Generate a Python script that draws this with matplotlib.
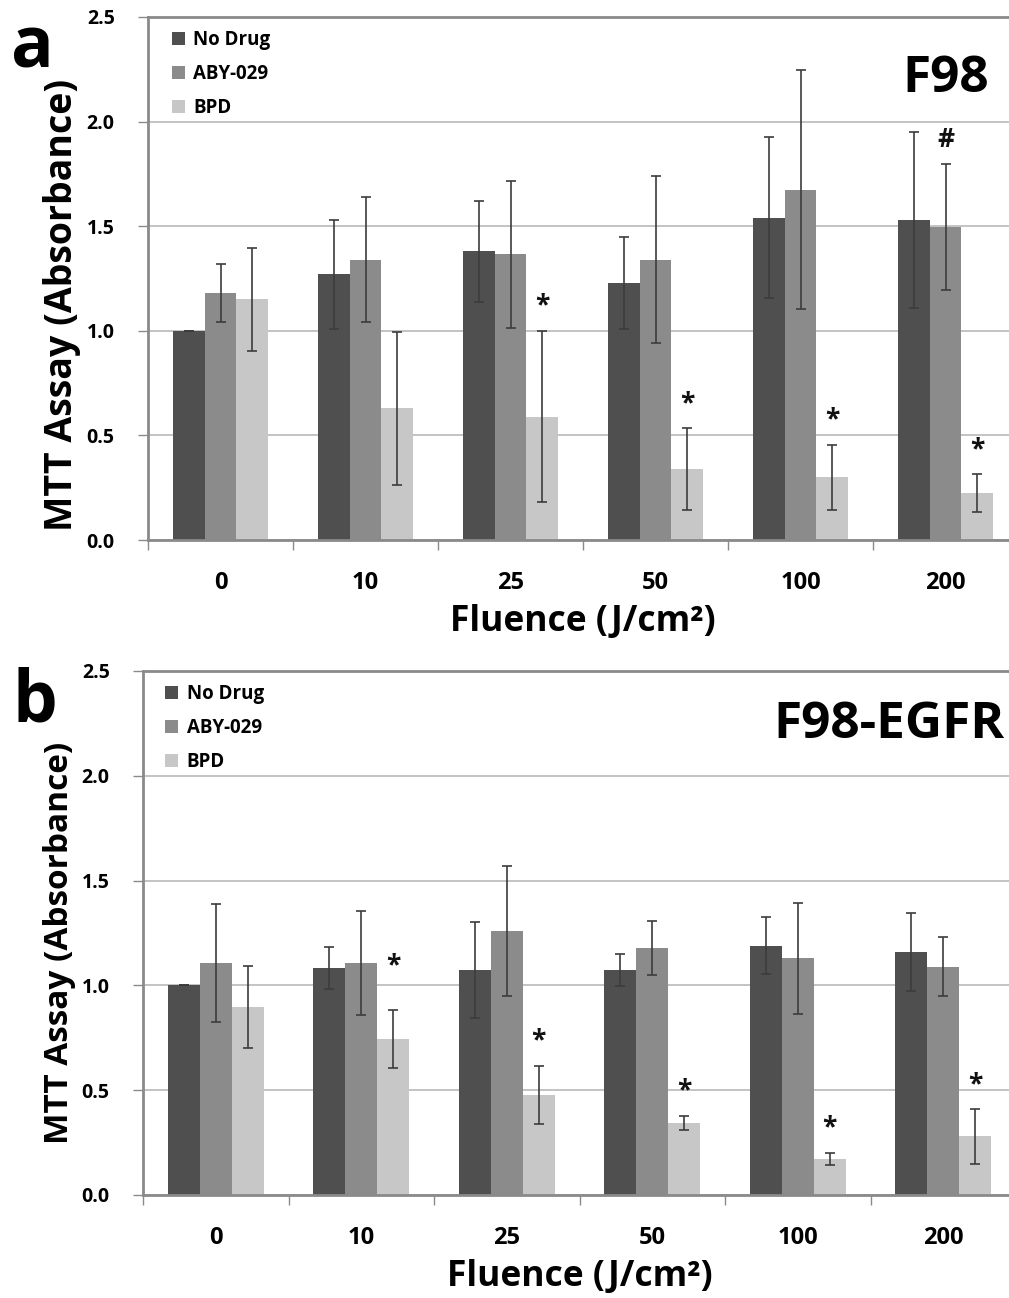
import matplotlib
matplotlib.use('Agg')
import matplotlib.pyplot as plt
from matplotlib.patches import Patch
import numpy as np

plt.rcParams['font.family'] = 'Open Sans'
plt.rcParams['font.weight'] = 'bold'
plt.rcParams['axes.labelweight'] = 'bold'

fluence = ['0', '10', '25', '50', '100', '200']
groups = ['No Drug', 'ABY-029', 'BPD']

# panel a - F98
a_nodrug = [1.00, 1.27, 1.38, 1.23, 1.54, 1.53]
a_nodrug_err = [0.0, 0.26, 0.24, 0.22, 0.385, 0.42]
a_aby = [1.18, 1.34, 1.365, 1.34, 1.675, 1.495]
a_aby_err = [0.14, 0.30, 0.35, 0.40, 0.57, 0.30]
a_bpd = [1.15, 0.63, 0.59, 0.34, 0.30, 0.224]
a_bpd_err = [0.245, 0.365, 0.41, 0.195, 0.155, 0.09]
a_aby_sig = ['', '', '', '', '', '#']
a_bpd_sig = ['', '', '*', '*', '*', '*']

# panel b - F98-EGFR
b_nodrug = [1.00, 1.083, 1.073, 1.073, 1.19, 1.16]
b_nodrug_err = [0.0, 0.10, 0.23, 0.075, 0.135, 0.185]
b_aby = [1.107, 1.107, 1.26, 1.178, 1.13, 1.09]
b_aby_err = [0.28, 0.25, 0.31, 0.13, 0.265, 0.14]
b_bpd = [0.897, 0.745, 0.477, 0.344, 0.172, 0.28]
b_bpd_err = [0.195, 0.14, 0.14, 0.035, 0.03, 0.13]
b_aby_sig = ['', '', '', '', '', '']
b_bpd_sig = ['', '*', '*', '*', '*', '*']

colors = ['#4f4f4f', '#8b8b8b', '#c7c7c7']
spine_col = '#8a8a8a'
W, H = 1009, 1298


def draw_panel(rect, series, errs, sigs, title, letter, title_pos, letter_pos,
               ylab_size, ylab_y, leg_anchor, star_pad):
    ax = plt.gcf().add_axes([rect[0] / W, 1 - rect[3] / H,
                             (rect[2] - rect[0]) / W, (rect[3] - rect[1]) / H])
    x = np.arange(len(fluence))
    width = 0.22
    for i, (vals, err) in enumerate(zip(series, errs)):
        xs = x + (i - 1) * width
        ax.bar(xs, vals, width, color=colors[i], edgecolor=colors[i], linewidth=0,
               zorder=2)
        ax.errorbar(xs, vals, yerr=err, fmt='none', ecolor='#3c3c3c',
                    elinewidth=1.2, capsize=3.5, capthick=1.2, zorder=3)
        for k, (xi, v, e, s) in enumerate(zip(xs, vals, err, sigs[i])):
            if s:
                pad = star_pad.get(k, 8) if i == 2 else 8
                ax.annotate(s, xy=(xi, v + e), xytext=(0, pad),
                            textcoords='offset points', ha='center', va='bottom',
                            fontsize=19, color='#111111')

    ax.set_xlim(-0.5, 5.5)
    ax.set_ylim(0, 2.5)
    ax.set_yticks(np.arange(0, 2.51, 0.5))
    ax.set_yticklabels([f'{t:.1f}' for t in np.arange(0, 2.51, 0.5)])
    ax.set_xticks(np.arange(-0.5, 5.6, 1.0))
    ax.set_xticklabels([])
    ax.set_xticks(x, minor=True)
    ax.set_xticklabels(fluence, minor=True)
    ax.tick_params(axis='y', length=7, width=1, color=spine_col, labelsize=14,
                   pad=17)
    ax.tick_params(axis='x', which='major', length=7, width=1, color=spine_col)
    ax.tick_params(axis='x', which='minor', length=0, labelsize=17, pad=22)
    ax.grid(axis='y', color='#b9b9b9', linewidth=1.2, zorder=0)
    ax.set_axisbelow(True)
    for sp in ax.spines.values():
        sp.set_color(spine_col)
        sp.set_linewidth(2)

    ax.set_ylabel('MTT Assay (Absorbance)', fontsize=ylab_size, labelpad=4,
                  y=ylab_y)
    ax.set_xlabel('Fluence (J/cm²)', fontsize=25.5, labelpad=7)

    handles = [Patch(facecolor=c, edgecolor='none', label=g)
               for c, g in zip(colors, groups)]
    ax.legend(handles=handles, loc='upper left', bbox_to_anchor=leg_anchor,
              frameon=False, fontsize=13.5, handlelength=0.7, handleheight=0.7,
              handletextpad=0.45, labelspacing=0.74, borderaxespad=0,
              borderpad=0.3)

    fig = plt.gcf()
    fig.text(title_pos[0] / W, 1 - title_pos[1] / H, title, fontsize=37,
             ha='right', va='baseline')
    fig.text(letter_pos[0] / W, 1 - letter_pos[1] / H, letter, fontsize=51,
             ha='left', va='baseline')
    return ax


fig = plt.figure(figsize=(W / 100, H / 100), dpi=100)

draw_panel((148, 17, 1018, 540), [a_nodrug, a_aby, a_bpd],
           [a_nodrug_err, a_aby_err, a_bpd_err], [['']*6, a_aby_sig, a_bpd_sig],
           'F98', 'a', (989, 92), (11, 67), 27, 0.449, (0.021, 0.985), {})

draw_panel((143, 671, 1016, 1195), [b_nodrug, b_aby, b_bpd],
           [b_nodrug_err, b_aby_err, b_bpd_err], [['']*6, b_aby_sig, b_bpd_sig],
           'F98-EGFR', 'b', (1005, 738), (13, 722), 24, 0.481, (0.019, 0.985),
           {1: 22})

fig.savefig('out.png', dpi=100)
